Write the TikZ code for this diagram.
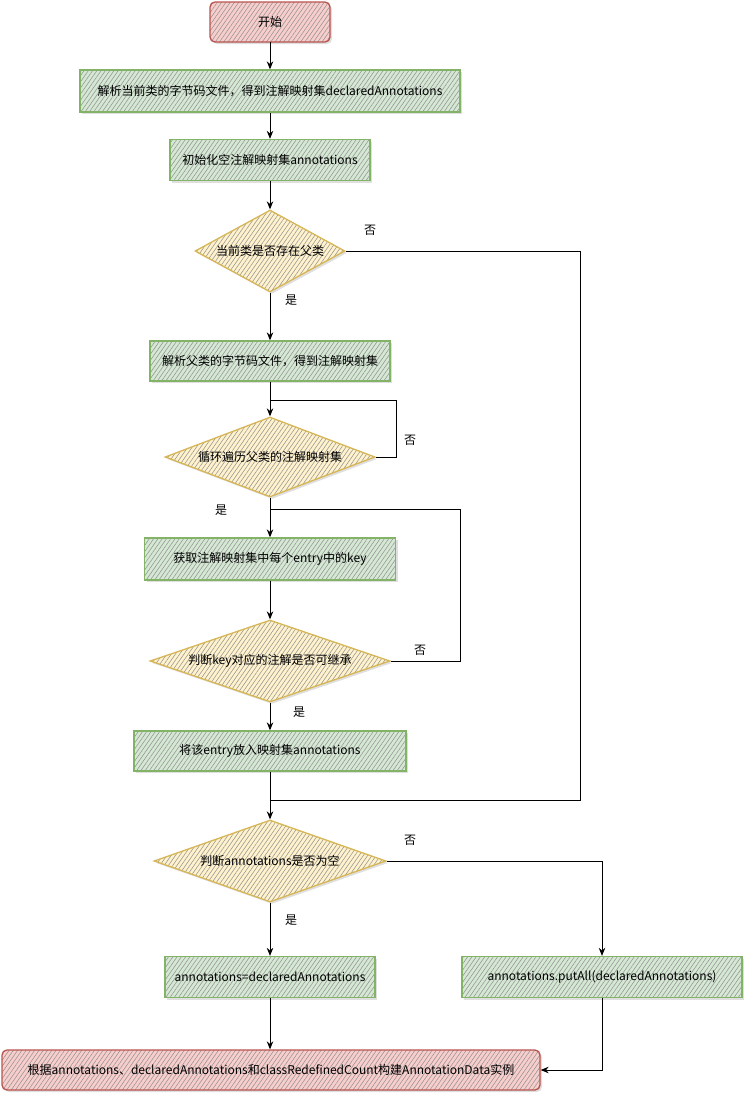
\documentclass[tikz,border=0pt]{standalone}
\usepackage{fontspec}
\setmainfont{Noto Sans CJK SC}
\usetikzlibrary{shapes.geometric,arrows.meta,patterns.meta,shadows}
\definecolor{gfill}{HTML}{D5E8D4}\definecolor{gline}{HTML}{82B366}
\definecolor{yfill}{HTML}{FFF2CC}\definecolor{yline}{HTML}{D6B656}
\definecolor{rfill}{HTML}{F8CECC}\definecolor{rline}{HTML}{B85450}
\begin{document}
\begin{tikzpicture}[x=1pt,y=-1pt,
  font=\fontsize{12}{14}\selectfont,
  base/.style={line width=1.3pt,
    drop shadow={opacity=0.25,shadow xshift=2pt,shadow yshift=-2pt},
    pattern={Lines[angle=55,distance=3.5pt,line width=0.55pt]}, pattern color=gray!85},
  procbox/.style={base, rectangle, draw=gline, preaction={fill=gfill}, inner sep=2pt},
  termbox/.style={base, rectangle, rounded corners=5pt, draw=rline, preaction={fill=rfill}, inner sep=2pt},
  decision/.style={base, diamond, draw=yline, preaction={fill=yfill}, inner sep=0pt},
  flow/.style={draw, line width=1pt, -{Stealth[length=8pt,width=6.5pt]}},
  plain/.style={draw, line width=1pt},
  lbl/.style={inner sep=0pt}]
\useasboundingbox (0,0) rectangle (755,1106);

\node[termbox, minimum width=120, minimum height=40] (start) at (270,22) {开始};
\node[procbox, minimum width=380, minimum height=42] (box1) at (270,91) {解析当前类的字节码文件，得到注解映射集declaredAnnotations};
\node[procbox, minimum width=200, minimum height=41] (box2) at (270,160) {初始化空注解映射集annotations};
\node[decision, minimum width=150, minimum height=82, aspect=1.83] (d1) at (270,251) {当前类是否存在父类};
\node[procbox, minimum width=240, minimum height=40] (box3) at (270,361) {解析父类的字节码文件，得到注解映射集};
\node[decision, minimum width=210, minimum height=80, aspect=2.62] (d2) at (270,457) {循环遍历父类的注解映射集};
\node[procbox, minimum width=251, minimum height=42] (box4) at (270,559) {获取注解映射集中每个entry中的key};
\node[decision, minimum width=240, minimum height=82, aspect=2.93] (d3) at (270,661) {判断key对应的注解是否可继承};
\node[procbox, minimum width=272, minimum height=40] (box5) at (270,751) {将该entry放入映射集annotations};
\node[decision, minimum width=232, minimum height=82, aspect=2.83] (d4) at (270,861) {判断annotations是否为空};
\node[procbox, minimum width=210, minimum height=41] (box6) at (270,977) {annotations=declaredAnnotations};
\node[procbox, minimum width=280, minimum height=41] (box7) at (602,977) {annotations.putAll(declaredAnnotations)};
\node[termbox, minimum width=538, minimum height=40] (end) at (271,1070) {根据annotations、declaredAnnotations和classRedefinedCount构建AnnotationData实例};

\coordinate (j1) at (270,400);
\coordinate (j2) at (270,509);
\coordinate (j3) at (270,800);

\draw[flow] (start) -- (box1);
\draw[flow] (box1) -- (box2);
\draw[flow] (box2) -- (d1);
\draw[flow] (d1) -- (box3);
\draw[flow] (box3) -- (d2);
\draw[plain] (d2.east) -| (396,400) -- (j1);
\draw[flow] (d2) -- (box4);
\draw[flow] (box4) -- (d3);
\draw[plain] (d3.east) -| (460,509) -- (j2);
\draw[flow] (d3) -- (box5);
\draw[flow] (box5) -- (d4);
\draw[plain] (d1.east) -| (580,800) -- (j3);
\draw[flow] (d4) -- (box6);
\draw[flow] (d4.east) -| (box7.north);
\draw[flow] (box6.south) -- (box6.south |- end.north);
\draw[flow] (box7.south) |- (end.east);

\node[lbl] (l1) at (370,230) {否};
\node[lbl] (l2) at (291,300) {是};
\node[lbl] (l3) at (410,440) {否};
\node[lbl] (l4) at (221,510) {是};
\node[lbl] (l5) at (420,650) {否};
\node[lbl] (l6) at (299,712) {是};
\node[lbl] (l7) at (410,840) {否};
\node[lbl] (l8) at (291,920) {是};
\end{tikzpicture}
\end{document}
